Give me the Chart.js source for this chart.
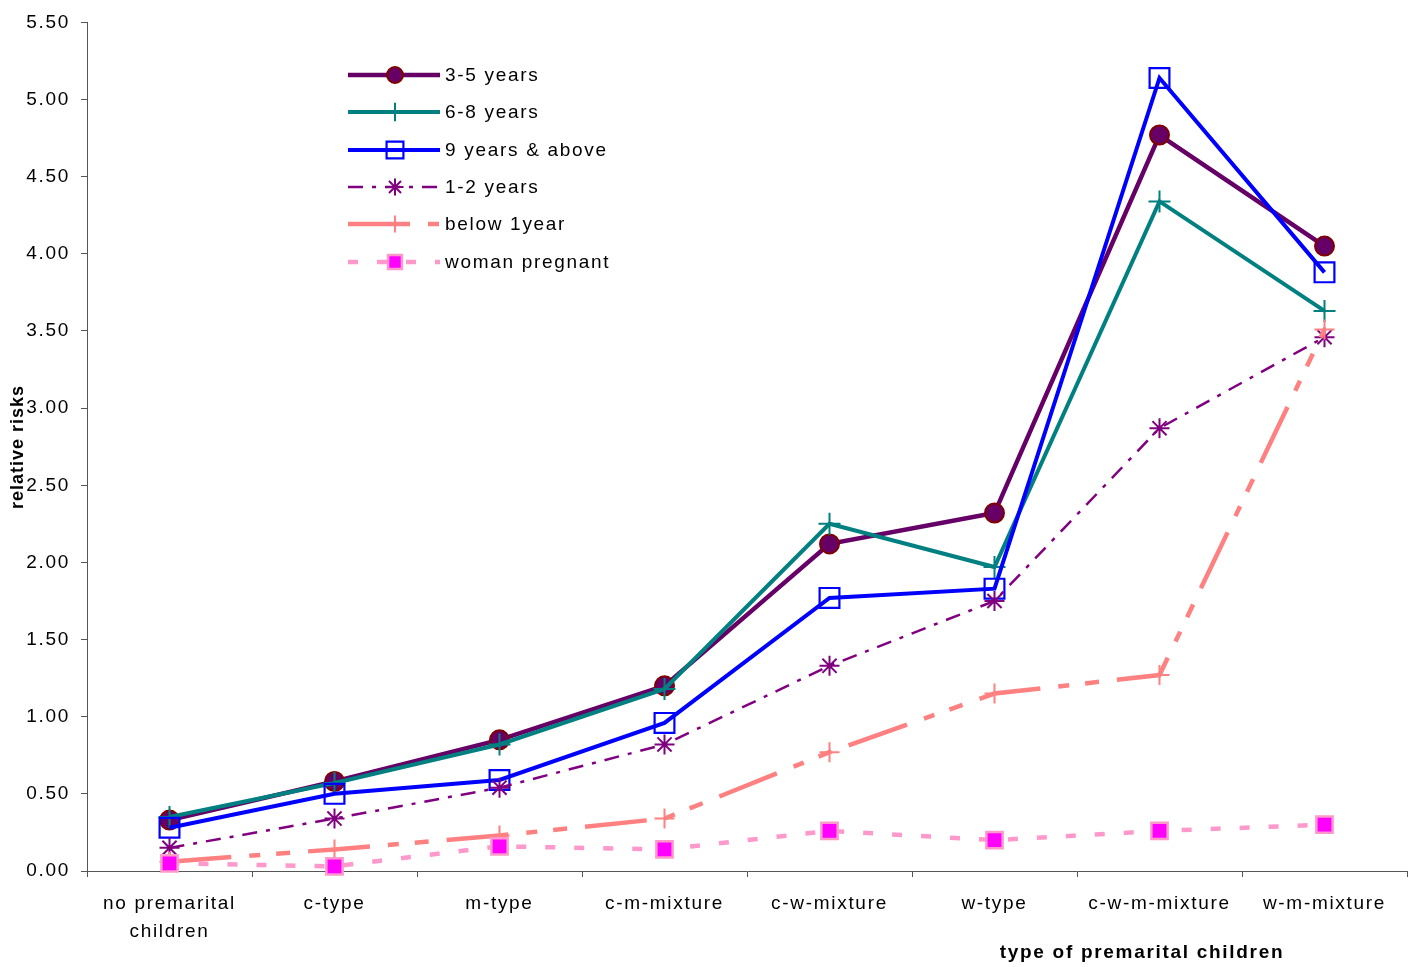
<!DOCTYPE html>
<html>
<head>
<meta charset="utf-8">
<script src="https://cdn.jsdelivr.net/npm/chart.js@4/dist/chart.umd.min.js"></script>
<style>
  html, body { margin: 0; padding: 0; background: #fff; }
  canvas { display: block; }
</style>
</head>
<body>
<canvas id="chart" width="1420" height="967"></canvas>
<script>
// Categories along the x axis
const categories = [
  ['no premarital', 'children'],
  'c-type',
  'm-type',
  'c-m-mixture',
  'c-w-mixture',
  'w-type',
  'c-w-m-mixture',
  'w-m-mixture'
];

// Relative risks per marriage-duration group
const years3to5     = [0.33, 0.58, 0.85, 1.20, 2.12, 2.32, 4.77, 4.05];
const years6to8     = [0.35, 0.57, 0.82, 1.18, 2.25, 1.97, 4.34, 3.63];
const years9plus    = [0.28, 0.50, 0.59, 0.96, 1.77, 1.83, 5.14, 3.88];
const years1to2     = [0.15, 0.34, 0.54, 0.82, 1.33, 1.75, 2.87, 3.46];
const below1year    = [0.06, 0.14, 0.23, 0.34, 0.77, 1.15, 1.27, 3.51];
const womanPregnant = [0.05, 0.03, 0.16, 0.14, 0.26, 0.20, 0.26, 0.30];

const seriesNames = ['3-5 years', '6-8 years', '9 years & above', '1-2 years', 'below 1year', 'woman pregnant'];

// Y axis range
const yMin = 0, yMax = 5.5, yStep = 0.5;

const FONT = "'Liberation Sans', Arial, sans-serif";
const SPACING = '1.7px';

const datasets = [
  {
    label: seriesNames[0], data: years3to5,
    borderColor: '#660066', borderWidth: 4.5,
    pointStyle: 'circle', pointRadius: 9.5,
    pointBackgroundColor: '#660066', pointBorderColor: '#800000', pointBorderWidth: 2
  },
  {
    label: seriesNames[1], data: years6to8,
    borderColor: '#008080', borderWidth: 4,
    pointStyle: 'cross', pointRadius: 11,
    pointBorderColor: '#008080', pointBorderWidth: 2
  },
  {
    label: seriesNames[2], data: years9plus,
    borderColor: '#0000FF', borderWidth: 4,
    pointStyle: 'rect', pointRadius: 14,
    pointBackgroundColor: 'rgba(0,0,0,0)', pointBorderColor: '#0000FF', pointBorderWidth: 2.2
  },
  {
    label: seriesNames[3], data: years1to2,
    borderColor: '#800080', borderWidth: 2.5, borderDash: [15, 9, 4, 9],
    pointStyle: 'star', pointRadius: 10,
    pointBorderColor: '#800080', pointBorderWidth: 2
  },
  {
    label: seriesNames[4], data: below1year,
    borderColor: '#FF8080', borderWidth: 4.5, borderDash: [62, 18, 11, 16, 14, 18],
    pointStyle: 'cross', pointRadius: 10,
    pointBorderColor: '#FF8080', pointBorderWidth: 2
  },
  {
    label: seriesNames[5], data: womanPregnant,
    borderColor: '#FF99CC', borderWidth: 4.5, borderDash: [10, 19],
    pointStyle: 'rect', pointRadius: 11.5,
    pointBackgroundColor: '#FF00FF', pointBorderColor: '#FF99CC', pointBorderWidth: 2.5
  }
].map((d, i, arr) => Object.assign({
  fill: false, tension: 0, clip: false, backgroundColor: d.borderColor,
  pointHoverRadius: d.pointRadius, order: arr.length - i
}, d));

// Canvas letter spacing (reset whenever the canvas is resized)
const spacingPlugin = {
  id: 'spacing',
  beforeUpdate(chart) { chart.ctx.letterSpacing = SPACING; },
  beforeDraw(chart) { chart.ctx.letterSpacing = SPACING; },
  afterResize(chart) { chart.ctx.letterSpacing = SPACING; }
};

// Line-with-marker legend and the two axis titles
const decorPlugin = {
  id: 'decor',
  afterDraw(chart) {
    const ctx = chart.ctx;
    const x0 = 348, x1 = 440, xm = 395, xt = 445;
    const rows = [75, 112, 150, 187, 224, 262];
    chart.data.datasets.forEach((ds, i) => {
      const y = rows[i];
      ctx.save();
      ctx.strokeStyle = ds.borderColor;
      ctx.lineWidth = ds.borderWidth;
      ctx.setLineDash(ds.borderDash || []);
      ctx.beginPath();
      ctx.moveTo(x0, y);
      ctx.lineTo(x1, y);
      ctx.stroke();
      ctx.restore();

      ctx.save();
      ctx.setLineDash([]);
      ctx.fillStyle = ds.pointBackgroundColor || ds.borderColor;
      ctx.strokeStyle = ds.pointBorderColor || ds.borderColor;
      ctx.lineWidth = ds.pointBorderWidth;
      const r = ds.pointStyle === 'circle' ? 8 : ds.pointRadius * 0.85;
      Chart.helpers.drawPoint(ctx, { pointStyle: ds.pointStyle, radius: r, borderWidth: ds.pointBorderWidth, rotation: 0 }, xm, y);
      ctx.restore();

      ctx.save();
      ctx.letterSpacing = SPACING;
      ctx.fillStyle = '#000';
      ctx.font = '19px ' + FONT;
      ctx.textBaseline = 'middle';
      ctx.textAlign = 'left';
      ctx.fillText(ds.label, xt, y + 1);
      ctx.restore();
    });

    ctx.save();
    ctx.letterSpacing = '1px';
    ctx.fillStyle = '#000';
    ctx.font = 'bold 18px ' + FONT;
    ctx.textAlign = 'center';
    ctx.textBaseline = 'middle';
    ctx.translate(18, 447);
    ctx.rotate(-Math.PI / 2);
    ctx.fillText('relative risks', 0, 0);
    ctx.restore();

    ctx.save();
    ctx.letterSpacing = SPACING;
    ctx.fillStyle = '#000';
    ctx.font = 'bold 19px ' + FONT;
    ctx.textAlign = 'center';
    ctx.textBaseline = 'middle';
    ctx.fillText('type of premarital children', 1142, 953);
    ctx.restore();
  }
};

new Chart(document.getElementById('chart'), {
  type: 'line',
  data: { labels: categories, datasets },
  plugins: [spacingPlugin, decorPlugin],
  options: {
    responsive: false,
    animation: false,
    events: [],
    layout: { autoPadding: false, padding: { left: 0, right: 13, top: 21, bottom: 0 } },
    plugins: { legend: { display: false }, tooltip: { enabled: false } },
    scales: {
      x: {
        type: 'category',
        offset: true,
        grid: { offset: true, drawOnChartArea: false, drawTicks: true, tickLength: 6, color: '#555' },
        border: { display: true, color: '#555', width: 1 },
        ticks: {
          autoSkip: false, maxRotation: 0, minRotation: 0, padding: 13,
          color: '#000', font: { family: FONT, size: 19, lineHeight: 1.45 }
        },
        afterFit(scale) {
          scale.height = 96;
          scale.paddingLeft = 0;
          scale.paddingRight = 0;
        }
      },
      y: {
        min: yMin, max: yMax,
        grid: { drawOnChartArea: false, drawTicks: true, tickLength: 6, color: '#555' },
        border: { display: true, color: '#555', width: 1 },
        ticks: {
          stepSize: yStep, padding: 11, color: '#000',
          font: { family: FONT, size: 19 },
          callback: v => Number(v).toFixed(2)
        },
        afterFit(scale) { scale.width = 87; }
      }
    }
  }
});
</script>
</body>
</html>
